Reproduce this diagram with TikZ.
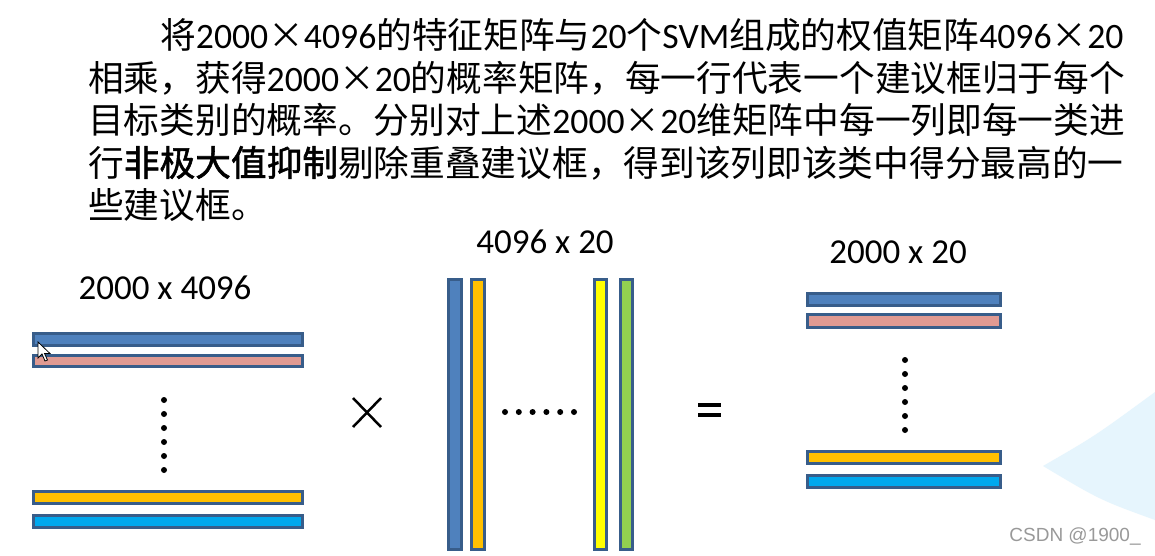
\documentclass[tikz,border=0pt]{standalone}
\usepackage{fontspec}
\setmainfont{Carlito}
\setsansfont{Liberation Sans}
\newfontfamily\cjk{Noto Sans CJK SC}
\newfontfamily\cjkb[FakeBold=1.5]{Noto Sans CJK SC}
\newcommand{\tms}{\makebox[1em]{\cjk ×}}
\definecolor{barline}{HTML}{385D8A}
\definecolor{rowblue}{HTML}{4F81BD}
\definecolor{rowpink}{HTML}{E09A92}
\definecolor{roworange}{HTML}{FFC000}
\definecolor{rowcyan}{HTML}{00A8EE}
\definecolor{rowyellow}{HTML}{FFFF00}
\definecolor{rowgreen}{HTML}{92D050}
\definecolor{blob}{HTML}{E6F5FD}

\begin{document}
\begin{tikzpicture}[x=1pt, y=-1pt,
  para/.style={anchor=base west, inner sep=0pt, font=\fontsize{35.7}{42}\selectfont},
  dims/.style={inner sep=0pt, font=\fontsize{35}{40}\selectfont},
  bar/.style={draw=barline, line width=3pt}]
  \useasboundingbox (0,0) rectangle (1155,555);
  \fill[white] (0,0) rectangle (1155,555);
  \fill[blob] (1043,466) .. controls (1095,436) .. (1155,392) -- (1155,520) .. controls (1100,500) .. cycle;

  \node[para] (l1) at (160,48) {{\cjk 将}2000\tms 4096{\cjk 的特征矩阵与}20{\cjk 个}SVM{\cjk 组成的权值矩阵}4096\tms 20};
  \node[para] (l2) at (88,91) {{\cjk 相乘，获得}2000\tms 20{\cjk 的概率矩阵，每一行代表一个建议框归于每个}};
  \node[para] (l3) at (88,133) {{\cjk 目标类别的概率。分别对上述}2000\tms 20{\cjk 维矩阵中每一列即每一类进}};
  \node[para] (l4) at (88,176) {{\cjk 行}{\cjkb 非极大值抑制}{\cjk 剔除重叠建议框，得到该列即该类中得分最高的一}};
  \node[para] (l5) at (88,218) {{\cjk 些建议框。}};

  \node[dims] (featdim) at (165,288) {2000 x 4096};
  \draw[bar, fill=rowblue] (33.5,333.5) rectangle (302.5,345.5);
  \draw[bar, fill=rowpink] (33.5,355.5) rectangle (302.5,366.5);
  \foreach \y in {0,...,5} \fill (164,400+14*\y) circle (3pt);
  \draw[bar, fill=roworange] (33.5,491.5) rectangle (302.5,503.5);
  \draw[bar, fill=rowcyan] (33.5,515.5) rectangle (302.5,527.5);
  \filldraw[fill=white, draw=black, line width=0.8pt] (38,342) -- ++(0,16) -- ++(4,-4) -- ++(3,7) -- ++(2.5,-1) -- ++(-3,-6.5) -- ++(5.5,0) -- cycle;

  \draw[line width=2.5pt] (353,398) -- (381,427);
  \draw[line width=2.5pt] (353,427) -- (381,398);

  \node[dims] (svmdim) at (545,242) {4096 x 20};
  \draw[bar, fill=rowblue] (448.5,279.5) rectangle (461.5,549.5);
  \draw[bar, fill=roworange] (471.5,279.5) rectangle (484.5,549.5);
  \foreach \x in {0,...,5} \fill (505+13.8*\x,412) circle (3pt);
  \draw[bar, fill=rowyellow] (594.5,279.5) rectangle (606.5,549.5);
  \draw[bar, fill=rowgreen] (620.5,279.5) rectangle (632.5,549.5);

  \fill (698,403) rectangle (721,406.5);
  \fill (698,413) rectangle (721,416.5);

  \node[dims] (probdim) at (898,252) {2000 x 20};
  \draw[bar, fill=rowblue] (807.5,293.5) rectangle (1000.5,305.5);
  \draw[bar, fill=rowpink] (807.5,314.5) rectangle (1000.5,327.5);
  \foreach \y in {0,...,5} \fill (905,360+14*\y) circle (3pt);
  \draw[bar, fill=roworange] (807.5,451.5) rectangle (1000.5,463.5);
  \draw[bar, fill=rowcyan] (807.5,475.5) rectangle (1000.5,487.5);

  \node[inner sep=0pt, font=\sffamily\fontsize{19}{22}\selectfont, text=black!40] (mark) at (1075,536) {CSDN @1900\_};
\end{tikzpicture}
\end{document}
